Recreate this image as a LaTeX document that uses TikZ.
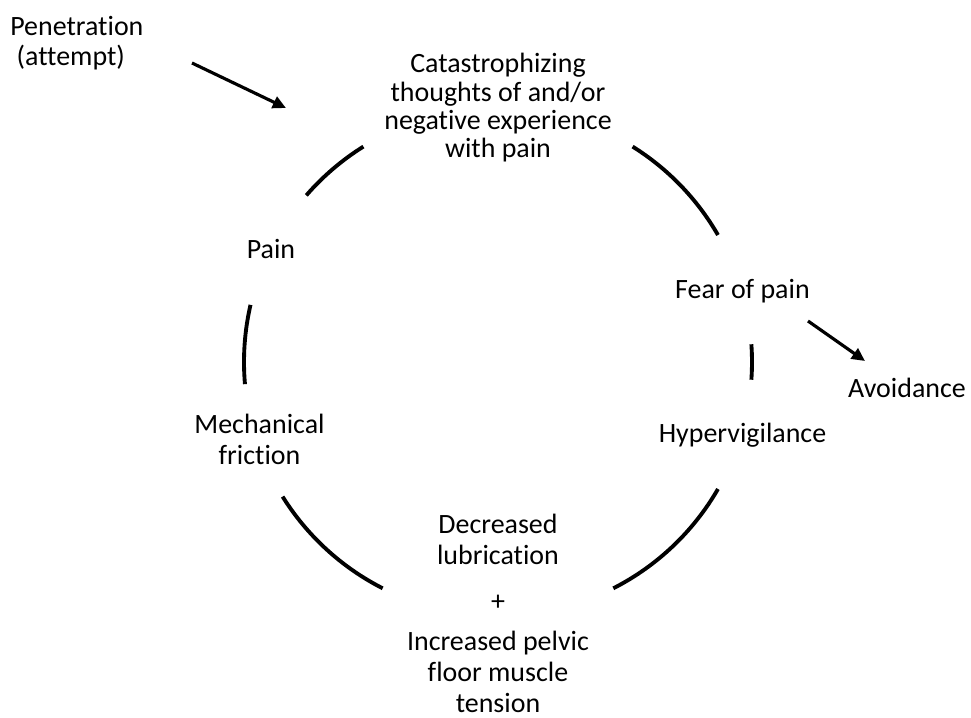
\documentclass[tikz,border=0pt]{standalone}
\usepackage{fontspec}
\setmainfont{Carlito}[Ligatures=NoCommon]
\usepackage{tikz}
\usetikzlibrary{arrows.meta}

\begin{document}
\begin{tikzpicture}[
    cyc/.style={line width=2.2pt},
    lead/.style={line width=1.8pt,-{Triangle[length=7.5pt,width=7pt]}},
    lbl/.style={inner sep=0pt,align=center,font=\fontsize{15.9}{17.6}\selectfont}
    ]
    \def\r{5.08}
    \useasboundingbox (-9.96,-7.10) rectangle (9.46,7.24);
    % the cycle
    \draw[cyc] (122:\r) arc[start angle=122,end angle=139,radius=\r];
    \draw[cyc] (30:\r) arc[start angle=30,end angle=58,radius=\r];
    \draw[cyc] (-4:\r) arc[start angle=-4,end angle=4,radius=\r];
    \draw[cyc] (-63:\r) arc[start angle=-63,end angle=-30,radius=\r];
    \draw[cyc] (212:\r) arc[start angle=212,end angle=243,radius=\r];
    \draw[cyc] (167:\r) arc[start angle=167,end angle=185,radius=\r];
    % stages (base = last line)
    \node[lbl,anchor=base,font=\fontsize{15.9}{16.2}\selectfont] (cat) at (0,4.08)
        {Catastrophizing\\thoughts of and/or\\negative experience\\with pain};
    \node[lbl,anchor=base] (fear) at (4.89,1.28) {Fear of pain};
    \node[lbl,anchor=base] (hyper) at (4.89,-1.60) {Hypervigilance};
    \node[lbl,anchor=base] (lub) at (0,-4.04) {Decreased\\lubrication};
    \node[lbl,anchor=base] (plus) at (0,-4.96) {+};
    \node[lbl,anchor=base] (incr) at (0,-7.00) {Increased pelvic\\floor muscle\\tension};
    \node[lbl,anchor=base] (mech) at (-4.77,-2.04) {Mechanical\\friction};
    \node[lbl,anchor=base] (pain) at (-4.54,2.08) {Pain};
    % outside the cycle
    \node[lbl,align=left,anchor=base west] (pen) at (-9.76,5.92) {Penetration\\\mbox{ }(attempt)};
    \node[lbl,anchor=base] (avoid) at (8.18,-0.70) {Avoidance};
    \coordinate (penfrom) at (-6.12,5.98);
    \coordinate (pento) at (-4.24,5.08);
    \coordinate (fearfrom) at (6.20,0.82);
    \coordinate (fearto) at (7.34,0.02);
    \draw[lead] (penfrom) -- (pento);
    \draw[lead] (fearfrom) -- (fearto);
\end{tikzpicture}
\end{document}
